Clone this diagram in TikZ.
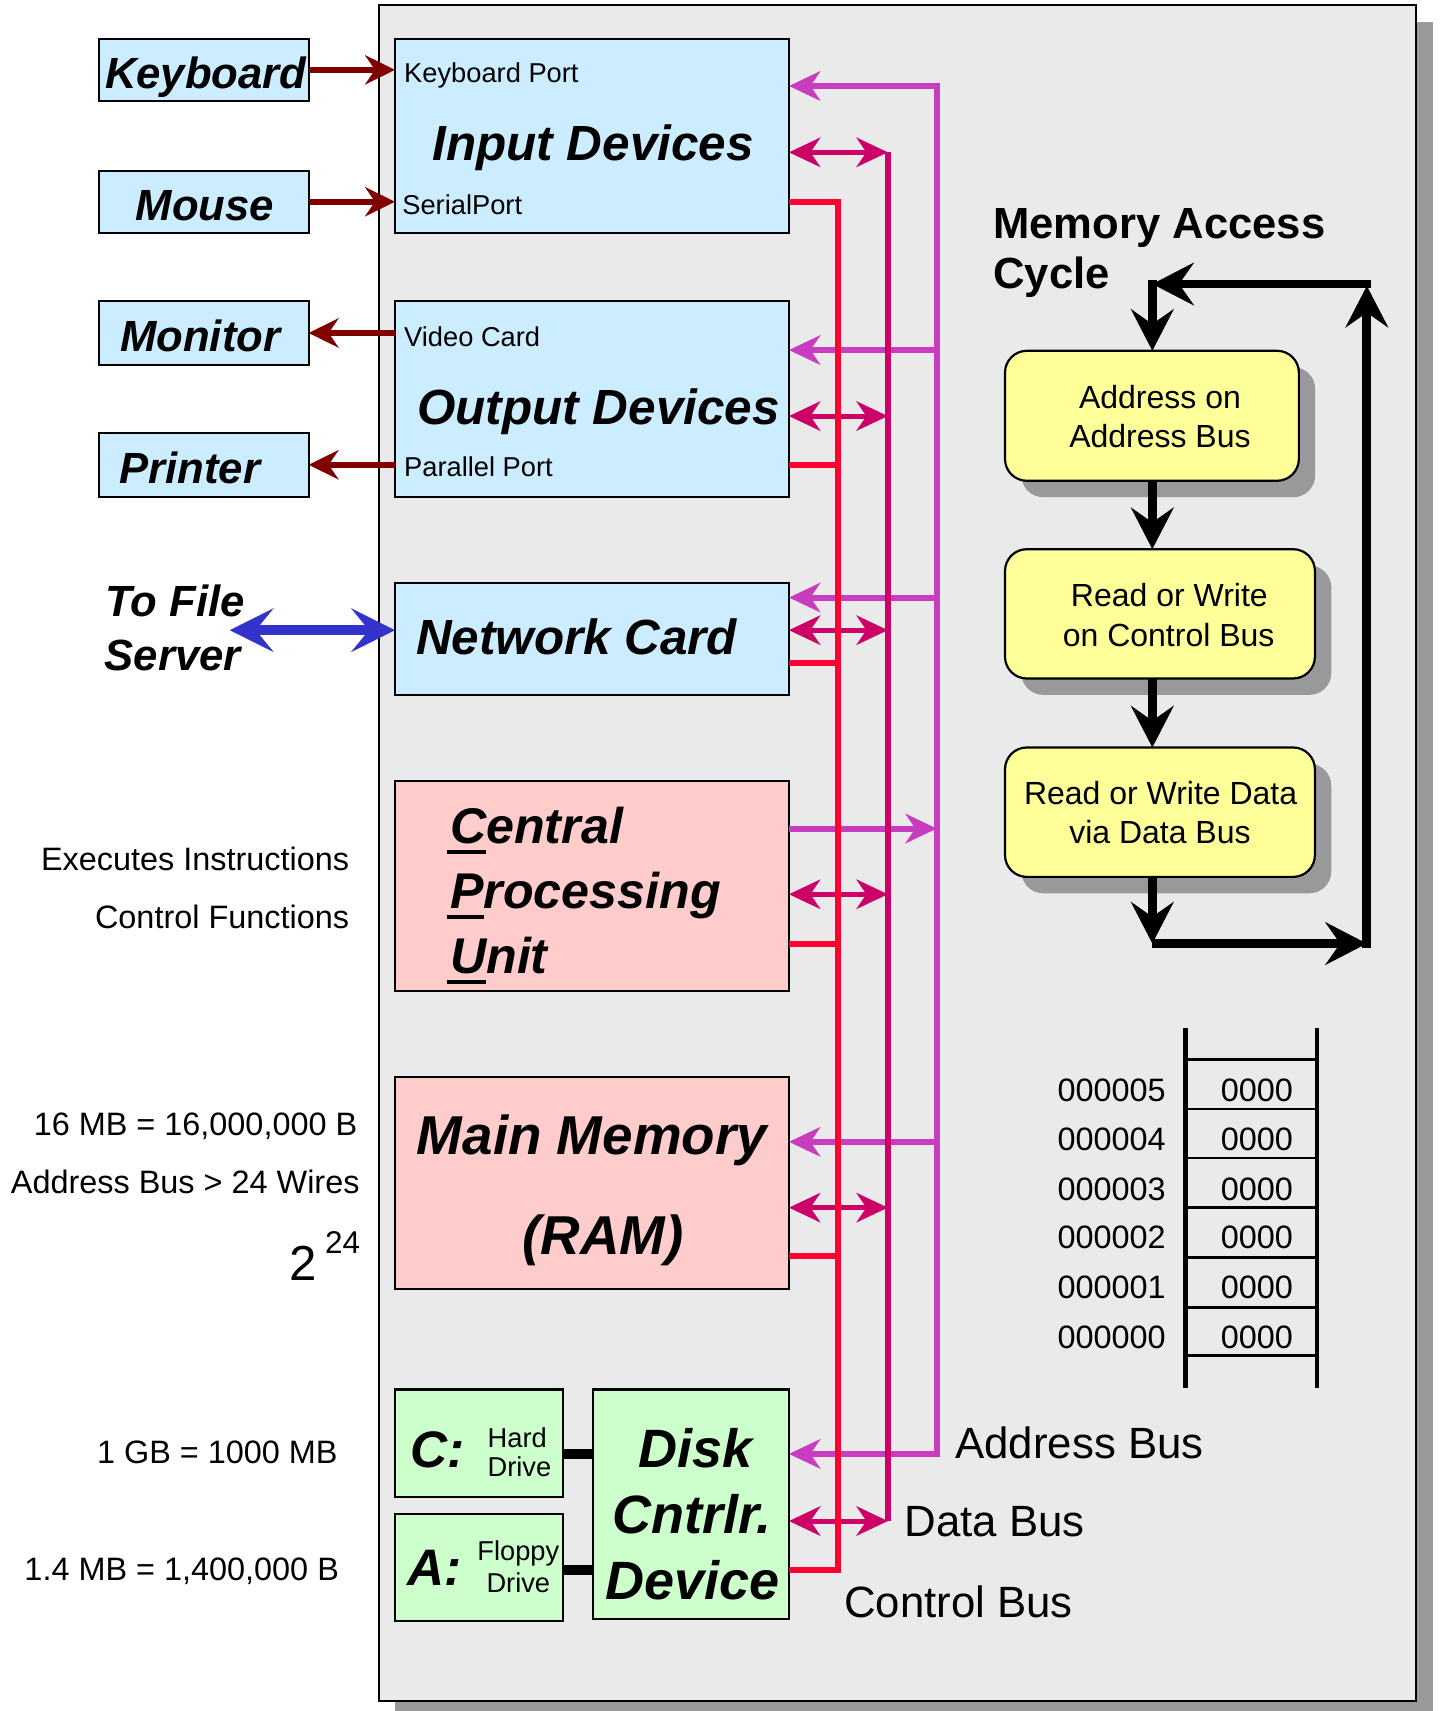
\documentclass[tikz,border=0pt]{standalone}
\usepackage{fontspec}
\setmainfont{Liberation Sans}
\usetikzlibrary{arrows.meta,fit}
\definecolor{panelgray}{RGB}{234,234,234}
\definecolor{shadowgray}{RGB}{153,153,153}
\definecolor{lblue}{RGB}{204,236,255}
\definecolor{lpink}{RGB}{255,204,204}
\definecolor{lgreen}{RGB}{204,255,204}
\definecolor{lyellow}{RGB}{255,255,153}
\definecolor{darkred}{RGB}{128,0,0}
\definecolor{addrc}{RGB}{200,60,190}
\definecolor{datac}{RGB}{204,0,102}
\definecolor{ctrlc}{RGB}{255,0,51}
\definecolor{blueA}{RGB}{51,51,204}
\newcommand\ulet[1]{\setbox0\hbox{#1}\rlap{\kern-1pt\rule[-3.07pt]{\dimexpr\wd0+1pt\relax}{1.33pt}}\box0}
\tikzset{
  BusTip/.tip={Stealth[length=8.9pt,width=8.35pt,inset=2.8pt]},
  RedTip/.tip={Stealth[length=8.5pt,width=8.3pt,inset=2.8pt]},
  BlueTip/.tip={Stealth[length=12.4pt,width=12.3pt,inset=5pt]},
  BlkTip/.tip={Stealth[length=11.8pt,width=12.1pt,inset=4.2pt]},
  box/.style={draw,line width=0.62pt,inner sep=0pt,outer sep=0pt},
  txt/.style={inner sep=0pt,outer sep=0pt},
  bi40/.style={txt,font={\fontsize{12.42pt}{15pt}\selectfont\bfseries\itshape}},
  bi45/.style={txt,font={\fontsize{14.05pt}{17pt}\selectfont\bfseries\itshape}},
  bi46/.style={txt,font={\fontsize{14.28pt}{17pt}\selectfont\bfseries\itshape}},
  bi47/.style={txt,font={\fontsize{14.6pt}{17pt}\selectfont\bfseries\itshape}},
  bi49/.style={txt,font={\fontsize{15.36pt}{18pt}\selectfont\bfseries\itshape}},
  bi50/.style={txt,font={\fontsize{15.58pt}{18pt}\selectfont\bfseries\itshape}},
  b40/.style={txt,font={\fontsize{12.4pt}{15pt}\selectfont\bfseries}},
  r25/.style={txt,font={\fontsize{7.76pt}{9pt}\selectfont}},
  r29/.style={txt,font={\fontsize{9.1pt}{11pt}\selectfont}},
  r30/.style={txt,font={\fontsize{9.22pt}{11pt}\selectfont}},
  r40/.style={txt,font={\fontsize{12.45pt}{15pt}\selectfont}},
  addr/.style={addrc,line width=1.7pt},
  addrh/.style={addrc,line width=1.7pt,-BusTip},
  dat/.style={datac,line width=1.7pt},
  dath/.style={datac,line width=1.4pt,BusTip-BusTip},
  ctl/.style={ctrlc,line width=1.7pt},
  redarr/.style={darkred,line width=1.7pt,-RedTip},
  blk/.style={black,line width=2.5pt,-BlkTip},
}
\begin{document}
\begin{tikzpicture}[x=0.010909cm,y=-0.010909cm]
\useasboundingbox (0,0) rectangle (1320,1568);
% panel
\fill[shadowgray] (362,20) rectangle (1313,1580);
\node[box,fill=panelgray,fit={(347.2,4.6)(1297.7,1559)}] (panel) {};

% external devices
\node[box,fill=lblue,fit={(90.5,35.75)(282.8,92.3)}] (kb) {};
\node[box,fill=lblue,fit={(90.5,156.5)(282.8,213.3)}] (ms) {};
\node[box,fill=lblue,fit={(90.5,275.7)(282.8,334.6)}] (mn) {};
\node[box,fill=lblue,fit={(90.5,396.6)(282.8,455.3)}] (pr) {};
\node[bi40,anchor=base] (tkb) at (188.6,81) {Keyboard};
\node[bi40,anchor=base] (tms) at (187.9,202) {Mouse};
\node[bi40,anchor=base] (tmn) at (183.5,322) {Monitor};
\node[bi40,anchor=base] (tpr) at (174,443) {Printer};

% internal boxes
\node[box,fill=lblue,fit={(362,35.75)(723,213.3)}] (inp) {};
\node[box,fill=lblue,fit={(362,276)(723,455.3)}] (outp) {};
\node[box,fill=lblue,fit={(362,534.1)(723,637)}] (net) {};
\node[box,fill=lpink,fit={(362,716)(723,908.2)}] (cpu) {};
\node[box,fill=lpink,fit={(362,987.3)(723,1181.5)}] (ram) {};
\node[box,fill=lgreen,fit={(362,1273.3)(516,1371.9)}] (hd) {};
\node[box,fill=lgreen,fit={(362,1387.3)(516,1485.4)}] (fd) {};
\node[box,fill=lgreen,fit={(543.8,1273.3)(723,1484)}] (disk) {};

\node[r25,anchor=base west] (tkp) at (370.4,75.8) {Keyboard Port};
\node[bi45,anchor=base] (tin) at (543.5,147.3) {Input Devices};
\node[r25,anchor=base west] (tsp) at (368.7,196.5) {SerialPort};
\node[r25,anchor=base west] (tvc) at (370.4,317.8) {Video Card};
\node[bi45,anchor=base] (tout) at (548.5,388.7) {Output Devices};
\node[r25,anchor=base west] (tpp) at (370.4,437) {Parallel Port};
\node[bi45,anchor=base] (tnet) at (528.4,599.5) {Network Card};
\node[bi46,anchor=base west] (tc1) at (412.5,773) {\ulet{C}entral};
\node[bi46,anchor=base west] (tc2) at (412.5,832.7) {\ulet{P}rocessing};
\node[bi46,anchor=base west] (tc3) at (412.5,892.2) {\ulet{U}nit};
\node[bi50,anchor=base] (tram1) at (542.5,1058) {Main Memory};
\node[bi50,anchor=base] (tram2) at (552.6,1149.5) {(RAM)};
\node[bi47,anchor=base west] (tc) at (375.9,1344.8) {C:};
\node[r25,anchor=base] (thd1) at (474,1326.2) {Hard};
\node[r25,anchor=base] (thd2) at (476,1353.2) {Drive};
\node[bi47,anchor=base west] (ta) at (373.7,1453) {A:};
\node[r25,anchor=base] (tfd1) at (475,1430) {Floppy};
\node[r25,anchor=base] (tfd2) at (475,1459.2) {Drive};
\node[bi49,anchor=base] (td1) at (637.5,1344.8) {Disk};
\node[bi49,anchor=base] (td2) at (634,1405.2) {Cntrlr.};
\node[bi49,anchor=base] (td3) at (634.5,1466.2) {Device};

% drive connectors
\draw[line width=2.9pt] (hd.east |- 0,1332.8) -- (disk.west |- 0,1332.8);
\draw[line width=2.9pt] (fd.east |- 0,1439) -- (disk.west |- 0,1439);

% external arrows
\draw[redarr] (kb.east) -- (kb.east -| inp.west);
\draw[redarr] (ms.east) -- (ms.east -| inp.west);
\draw[redarr] (mn.east -| outp.west) -- (mn.east);
\draw[redarr] (pr.east -| outp.west) -- (pr.east);
\coordinate (fs) at (210.5,577.5);
\draw[blueA,line width=2.86pt,BlueTip-BlueTip] (fs) -- (fs -| net.west);
\node[bi40,anchor=base west] (tfs1) at (96.8,565.3) {To File};
\node[bi40,anchor=base west] (tfs2) at (96,614.8) {Server};

% bus horizontals
\draw[addrh] (858.5,320.8) -- (outp.east |- 0,320.8);
\draw[addrh] (858.5,547.6) -- (net.east |- 0,547.6);
\draw[addrh] (858.5,1046.4) -- (ram.east |- 0,1046.4);
\draw[addrh] (cpu.east |- 0,759.3) -- (858.5,759.3);
\draw[dath] (inp.east |- 0,139.6) -- (813.6,139.6);
\draw[dath] (outp.east |- 0,381.3) -- (813.6,381.3);
\draw[dath] (net.east |- 0,577.5) -- (813.6,577.5);
\draw[dath] (cpu.east |- 0,819.5) -- (813.6,819.5);
\draw[dath] (ram.east |- 0,1106.7) -- (813.6,1106.7);
\draw[dath] (disk.east |- 0,1393.9) -- (813.6,1393.9);
\draw[ctl] (outp.east |- 0,426.3) -- (768.2,426.3);
\draw[ctl] (net.east |- 0,608) -- (768.2,608);
\draw[ctl] (cpu.east |- 0,864.7) -- (768.2,864.7);
\draw[ctl] (ram.east |- 0,1150.7) -- (768.2,1150.7);
% bus verticals
\draw[addr,BusTip-BusTip] (inp.east |- 0,78.8) -- (858.5,78.8) -- (858.5,1332.4) -- (disk.east |- 0,1332.4);
\draw[dat] (813.6,139.6) -- (813.6,1393.9);
\draw[ctl] (inp.east |- 0,184.9) -- (768.2,184.9) -- (768.2,1438.4) -- (disk.east |- 0,1438.4);

\node[r40,anchor=base west] (lab1) at (875.5,1336.5) {Address Bus};
\node[r40,anchor=base west] (lab2) at (829.2,1408) {Data Bus};
\node[r40,anchor=base west] (lab3) at (773.6,1482) {Control Bus};

% memory access cycle
\node[b40,anchor=base west] (mac1) at (910.4,218.5) {Memory Access};
\node[b40,anchor=base west] (mac2) at (910.4,264.3) {Cycle};
\fill[shadowgray,rounded corners=6.2pt] (936,336.5) rectangle (1205.3,455.6);
\fill[shadowgray,rounded corners=6.2pt] (936,518.3) rectangle (1220,636.8);
\fill[shadowgray,rounded corners=6.2pt] (936,700) rectangle (1220,818.6);
\node[box,fill=lyellow,rounded corners=6.2pt,fit={(921,321.5)(1190.3,440.6)}] (y1) {};
\node[box,fill=lyellow,rounded corners=6.2pt,fit={(921,503.3)(1205,621.8)}] (y2) {};
\node[box,fill=lyellow,rounded corners=6.2pt,fit={(921,685)(1205,803.6)}] (y3) {};
\node[r29,anchor=base] (ty1a) at (1063,374.3) {Address on};
\node[r29,anchor=base] (ty1b) at (1063,410.4) {Address Bus};
\node[r29,anchor=base] (ty2a) at (1071.6,555.5) {Read or Write};
\node[r29,anchor=base] (ty2b) at (1071,592.2) {on Control Bus};
\node[r29,anchor=base] (ty3a) at (1063.6,737) {Read or Write Data};
\node[r29,anchor=base] (ty3b) at (1063,773) {via Data Bus};

\coordinate (c1) at (1056,864.7);
\coordinate (c2) at (1252.6,864.7);
\coordinate (c3) at (1252.6,262);
\coordinate (c4) at (1056,260.3);
\coordinate (c3b) at (1252.6,260.3);
\draw[blk] (y1.south -| c1) -- (y2.north -| c1);
\draw[blk] (y2.south -| c1) -- (y3.north -| c1);
\draw[blk] (y3.south -| c1) -- (c1);
\draw[blk] (c1) -- (c2);
\draw[blk,shorten <=-1.2pt] (c2) -- (c3);
\draw[blk,shorten <=-1.2pt] (c3b) -- (c4);
\draw[blk,shorten <=-1.2pt] (c4) -- (y1.north -| c4);

% memory table
\draw[line width=1.2pt] (1086.4,942.4) -- (1086.4,1272.2);
\draw[line width=1.2pt] (1207.2,942.4) -- (1207.2,1272.2);
\foreach \yy in {970.8,1016.4,1061,1106.7,1152.3,1198.1,1242.2}
  \draw[line width=0.7pt] (1086.4,\yy) -- (1207.2,\yy);
\foreach \yy/\n in {1009/5,1054.7/4,1100.5/3,1144.5/2,1190.2/1,1236/0}{
  \node[r30,anchor=base east] (ad\n) at (1068.3,\yy) {00000\n};
  \node[r30,anchor=base] (va\n) at (1151.8,\yy) {0000};
}

% left notes
\node[r30,anchor=base east] (n1) at (319.9,797.5) {Executes Instructions};
\node[r30,anchor=base east] (n2) at (319.9,851) {Control Functions};
\node[r30,anchor=base east] (n3) at (327.4,1040.5) {16 MB = 16,000,000 B};
\node[r30,anchor=base east] (n4) at (329.5,1093.3) {Address Bus > 24 Wires};
\node[txt,anchor=base west,font={\fontsize{14pt}{16pt}\selectfont}] (n5) at (265,1173.6) {2};
\node[txt,anchor=base west,font={\fontsize{8.95pt}{10pt}\selectfont}] (n6) at (298,1148.6) {24};
\node[r30,anchor=base east] (n7) at (309.4,1341.5) {1 GB = 1000 MB};
\node[r30,anchor=base east] (n8) at (310.6,1448) {1.4 MB = 1,400,000 B};
\end{tikzpicture}
\end{document}
